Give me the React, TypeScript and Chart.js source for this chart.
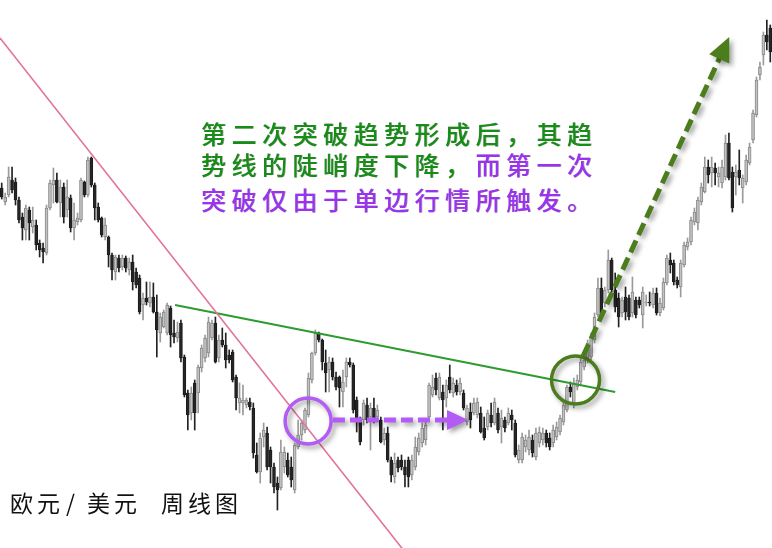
import React, { useEffect, useRef } from "react";
import { Chart, registerables } from "chart.js";

Chart.register(...registerables);

// EUR/USD weekly candles (approximate prices)
const opens = [
  1.412, 1.398, 1.405, 1.420, 1.418, 1.400, 1.383, 1.370, 1.390, 1.373,
  1.375, 1.357, 1.352, 1.347, 1.392, 1.415, 1.420, 1.397, 1.413, 1.390,
  1.402, 1.372, 1.378, 1.380, 1.418, 1.405, 1.442, 1.415, 1.393, 1.382,
  1.363, 1.363, 1.345, 1.328, 1.342, 1.333, 1.342, 1.330, 1.338, 1.328,
  1.322, 1.295, 1.302, 1.297, 1.303, 1.288, 1.267, 1.273, 1.267, 1.292,
  1.267, 1.262, 1.277, 1.243, 1.207, 1.187, 1.217, 1.207, 1.232, 1.242,
  1.247, 1.262, 1.277, 1.242, 1.260, 1.255, 1.245, 1.248, 1.223, 1.197,
  1.197, 1.195, 1.198, 1.192, 1.145, 1.128, 1.163, 1.167, 1.150, 1.133,
  1.117, 1.112, 1.133, 1.140, 1.133, 1.110, 1.153, 1.165, 1.170, 1.185,
  1.220, 1.247, 1.267, 1.260, 1.237, 1.230, 1.238, 1.223, 1.223, 1.208,
  1.223, 1.238, 1.235, 1.200, 1.180, 1.180, 1.195, 1.183, 1.192, 1.183,
  1.180, 1.160, 1.167, 1.140, 1.123, 1.140, 1.140, 1.133, 1.140, 1.125,
  1.133, 1.148, 1.157, 1.160, 1.183, 1.205, 1.222, 1.202, 1.208, 1.202,
  1.223, 1.207, 1.215, 1.208, 1.207, 1.178, 1.188, 1.187, 1.185, 1.187,
  1.172, 1.173, 1.185, 1.177, 1.187, 1.173, 1.180, 1.177, 1.185, 1.177,
  1.140, 1.140, 1.153, 1.150, 1.160, 1.143, 1.157, 1.160, 1.167, 1.162,
  1.157, 1.163, 1.168, 1.178, 1.190, 1.213, 1.197, 1.213, 1.218, 1.233,
  1.240, 1.243, 1.260, 1.285, 1.312, 1.297, 1.310, 1.340, 1.310, 1.302,
  1.287, 1.303, 1.302, 1.287, 1.300, 1.300, 1.285, 1.297, 1.298, 1.295,
  1.307, 1.287, 1.292, 1.317, 1.340, 1.337, 1.320, 1.313, 1.335, 1.353,
  1.358, 1.378, 1.377, 1.398, 1.408, 1.433, 1.427, 1.432, 1.423, 1.417,
  1.423, 1.457, 1.428, 1.423, 1.430, 1.412, 1.418, 1.437, 1.460, 1.485,
  1.525, 1.545, 1.565, 1.572,
];

const highs = [
  1.417, 1.407, 1.433, 1.433, 1.422, 1.403, 1.387, 1.395, 1.393, 1.393,
  1.380, 1.360, 1.357, 1.395, 1.420, 1.432, 1.427, 1.420, 1.417, 1.420,
  1.405, 1.397, 1.387, 1.422, 1.419, 1.443, 1.443, 1.417, 1.397, 1.383,
  1.382, 1.364, 1.347, 1.345, 1.345, 1.345, 1.344, 1.342, 1.345, 1.332,
  1.325, 1.307, 1.318, 1.318, 1.317, 1.305, 1.287, 1.290, 1.297, 1.294,
  1.280, 1.278, 1.280, 1.245, 1.210, 1.213, 1.220, 1.235, 1.255, 1.265,
  1.283, 1.280, 1.283, 1.265, 1.272, 1.267, 1.250, 1.250, 1.225, 1.217,
  1.215, 1.202, 1.202, 1.197, 1.157, 1.167, 1.177, 1.173, 1.153, 1.137,
  1.123, 1.160, 1.153, 1.147, 1.143, 1.157, 1.180, 1.180, 1.192, 1.227,
  1.248, 1.270, 1.268, 1.261, 1.250, 1.243, 1.242, 1.228, 1.224, 1.230,
  1.242, 1.242, 1.237, 1.203, 1.183, 1.200, 1.202, 1.197, 1.202, 1.195,
  1.183, 1.172, 1.173, 1.143, 1.147, 1.143, 1.145, 1.140, 1.143, 1.145,
  1.163, 1.167, 1.177, 1.180, 1.217, 1.225, 1.227, 1.227, 1.215, 1.220,
  1.235, 1.222, 1.220, 1.222, 1.210, 1.195, 1.197, 1.202, 1.202, 1.193,
  1.183, 1.190, 1.197, 1.202, 1.192, 1.190, 1.183, 1.192, 1.190, 1.180,
  1.155, 1.167, 1.165, 1.170, 1.165, 1.172, 1.173, 1.172, 1.170, 1.167,
  1.175, 1.178, 1.185, 1.197, 1.215, 1.218, 1.222, 1.225, 1.242, 1.245,
  1.260, 1.267, 1.287, 1.322, 1.322, 1.313, 1.350, 1.342, 1.327, 1.307,
  1.303, 1.313, 1.305, 1.323, 1.303, 1.303, 1.313, 1.305, 1.308, 1.312,
  1.312, 1.302, 1.322, 1.345, 1.347, 1.340, 1.323, 1.340, 1.358, 1.362,
  1.383, 1.392, 1.403, 1.417, 1.443, 1.440, 1.443, 1.437, 1.433, 1.440,
  1.465, 1.467, 1.433, 1.435, 1.450, 1.425, 1.445, 1.457, 1.490, 1.523,
  1.538, 1.568, 1.580, 1.575,
];

const lows = [
  1.401, 1.395, 1.403, 1.407, 1.395, 1.377, 1.360, 1.360, 1.360, 1.367,
  1.350, 1.343, 1.337, 1.345, 1.390, 1.397, 1.397, 1.383, 1.377, 1.383,
  1.368, 1.360, 1.375, 1.378, 1.403, 1.403, 1.413, 1.380, 1.378, 1.363,
  1.360, 1.333, 1.320, 1.320, 1.328, 1.330, 1.328, 1.325, 1.310, 1.312,
  1.286, 1.280, 1.295, 1.293, 1.287, 1.243, 1.258, 1.272, 1.265, 1.253,
  1.257, 1.258, 1.238, 1.203, 1.170, 1.180, 1.170, 1.187, 1.228, 1.238,
  1.243, 1.260, 1.237, 1.238, 1.253, 1.232, 1.237, 1.218, 1.190, 1.187,
  1.185, 1.192, 1.190, 1.142, 1.127, 1.117, 1.153, 1.130, 1.117, 1.107,
  1.090, 1.110, 1.127, 1.123, 1.113, 1.107, 1.151, 1.160, 1.167, 1.183,
  1.217, 1.245, 1.258, 1.230, 1.208, 1.208, 1.220, 1.210, 1.193, 1.193,
  1.213, 1.233, 1.187, 1.168, 1.155, 1.175, 1.177, 1.150, 1.177, 1.180,
  1.157, 1.155, 1.138, 1.118, 1.117, 1.128, 1.130, 1.113, 1.113, 1.120,
  1.130, 1.145, 1.153, 1.155, 1.180, 1.203, 1.205, 1.200, 1.170, 1.193,
  1.207, 1.203, 1.205, 1.205, 1.190, 1.175, 1.172, 1.185, 1.182, 1.167,
  1.160, 1.170, 1.173, 1.175, 1.167, 1.157, 1.168, 1.175, 1.170, 1.143,
  1.137, 1.137, 1.148, 1.145, 1.143, 1.140, 1.153, 1.155, 1.153, 1.150,
  1.153, 1.160, 1.165, 1.175, 1.188, 1.203, 1.192, 1.210, 1.215, 1.230,
  1.237, 1.240, 1.257, 1.283, 1.285, 1.293, 1.307, 1.308, 1.288, 1.273,
  1.283, 1.280, 1.280, 1.283, 1.282, 1.292, 1.272, 1.294, 1.294, 1.292,
  1.285, 1.284, 1.290, 1.315, 1.327, 1.315, 1.312, 1.303, 1.333, 1.350,
  1.355, 1.375, 1.370, 1.395, 1.407, 1.417, 1.413, 1.415, 1.413, 1.412,
  1.420, 1.420, 1.388, 1.405, 1.415, 1.397, 1.415, 1.435, 1.457, 1.483,
  1.520, 1.535, 1.550, 1.538,
];

const closes = [
  1.403, 1.403, 1.423, 1.410, 1.400, 1.380, 1.372, 1.392, 1.377, 1.380,
  1.355, 1.350, 1.348, 1.392, 1.417, 1.420, 1.398, 1.413, 1.383, 1.403,
  1.372, 1.380, 1.382, 1.420, 1.405, 1.440, 1.415, 1.392, 1.380, 1.365,
  1.375, 1.345, 1.330, 1.343, 1.332, 1.342, 1.332, 1.338, 1.318, 1.315,
  1.288, 1.302, 1.298, 1.303, 1.288, 1.270, 1.283, 1.288, 1.295, 1.265,
  1.263, 1.268, 1.242, 1.205, 1.185, 1.207, 1.187, 1.233, 1.252, 1.262,
  1.278, 1.277, 1.238, 1.260, 1.255, 1.240, 1.240, 1.220, 1.202, 1.202,
  1.200, 1.200, 1.193, 1.147, 1.128, 1.162, 1.170, 1.133, 1.133, 1.113,
  1.110, 1.148, 1.148, 1.125, 1.120, 1.155, 1.165, 1.177, 1.190, 1.222,
  1.247, 1.267, 1.260, 1.238, 1.227, 1.238, 1.223, 1.213, 1.212, 1.218,
  1.238, 1.235, 1.190, 1.178, 1.158, 1.197, 1.180, 1.192, 1.180, 1.190,
  1.158, 1.167, 1.140, 1.125, 1.137, 1.132, 1.133, 1.125, 1.123, 1.140,
  1.153, 1.162, 1.172, 1.175, 1.215, 1.213, 1.210, 1.223, 1.200, 1.215,
  1.210, 1.217, 1.208, 1.217, 1.192, 1.192, 1.180, 1.197, 1.198, 1.168,
  1.162, 1.187, 1.177, 1.198, 1.170, 1.182, 1.172, 1.187, 1.180, 1.145,
  1.150, 1.163, 1.160, 1.163, 1.147, 1.167, 1.168, 1.167, 1.157, 1.153,
  1.170, 1.173, 1.182, 1.195, 1.213, 1.208, 1.217, 1.220, 1.238, 1.240,
  1.257, 1.263, 1.283, 1.312, 1.287, 1.310, 1.340, 1.310, 1.293, 1.283,
  1.300, 1.288, 1.283, 1.308, 1.285, 1.295, 1.308, 1.298, 1.297, 1.307,
  1.287, 1.297, 1.318, 1.342, 1.335, 1.318, 1.315, 1.337, 1.355, 1.358,
  1.380, 1.388, 1.400, 1.413, 1.433, 1.425, 1.433, 1.427, 1.427, 1.433,
  1.457, 1.422, 1.392, 1.428, 1.422, 1.422, 1.440, 1.453, 1.487, 1.520,
  1.533, 1.565, 1.558, 1.548,
];

// Annotation geometry in data units: [candle index, price]
const steepTrendLine = [[-0.5, 1.562], [117.0, 1.048]];
const flatTrendLine = [[50.3, 1.295], [178.0, 1.208]];
const firstBreakCircle = [88.9, 1.179];
const secondBreakCircle = [166.5, 1.220];
const firstArrow = [[96.1, 1.180], [135.3, 1.180]];
const secondArrow = [[168.7, 1.244], [211.1, 1.563]];

// Text
const titleParts = ["欧元", "/", "美元", " ", "周线图"];
const noteLine1 = [{ text: "第二次突破趋势形成后，其趋", tone: "green" }];
const noteLine2 = [
  { text: "势线的陡峭度下降，", tone: "green" },
  { text: "而第一次", tone: "purple" },
];
const noteLine3 = [{ text: "突破仅由于单边行情所触发。", tone: "purple" }];

const PRICE_MIN = 1.052;
const PRICE_MAX = 1.6;

const GREEN_TEXT = "#178c17";
const PURPLE_TEXT = "#9a32ef";
const PURPLE = "#b35cf5";
const DARK_GREEN = "#4b7d1c";

function drawArrow(
  ctx: CanvasRenderingContext2D,
  a: { X: number; Y: number },
  b: { X: number; Y: number },
  color: string,
  width: number,
  dash: number[],
  headLen: number,
  headHalf: number
) {
  const dx = b.X - a.X;
  const dy = b.Y - a.Y;
  const len = Math.hypot(dx, dy);
  const ux = dx / len;
  const uy = dy / len;
  const bx = b.X - ux * headLen;
  const by = b.Y - uy * headLen;
  ctx.strokeStyle = color;
  ctx.lineWidth = width;
  ctx.lineCap = "butt";
  ctx.setLineDash(dash);
  ctx.beginPath();
  ctx.moveTo(a.X, a.Y);
  ctx.lineTo(bx + ux * 2, by + uy * 2);
  ctx.stroke();
  ctx.setLineDash([]);
  ctx.fillStyle = color;
  ctx.beginPath();
  ctx.moveTo(b.X, b.Y);
  ctx.lineTo(bx - uy * headHalf, by + ux * headHalf);
  ctx.lineTo(bx + uy * headHalf, by - ux * headHalf);
  ctx.closePath();
  ctx.fill();
}

const annotationPlugin = {
  id: "breakAnnotations",
  afterDatasetsDraw(chart: any) {
    const { ctx, scales } = chart;
    const xs = scales.x;
    const ys = scales.y;
    const P = (p: number[]) => ({ X: xs.getPixelForValue(p[0]), Y: ys.getPixelForValue(p[1]) });
    ctx.save();
    ctx.shadowColor = "rgba(0,0,0,0.38)";
    ctx.shadowBlur = 5;
    ctx.shadowOffsetX = 3;
    ctx.shadowOffsetY = 3;

    const c1 = P(firstBreakCircle);
    ctx.strokeStyle = PURPLE;
    ctx.lineWidth = 3.5;
    ctx.beginPath();
    ctx.arc(c1.X, c1.Y, 23, 0, Math.PI * 2);
    ctx.stroke();
    drawArrow(ctx, P(firstArrow[0]), P(firstArrow[1]), PURPLE, 5, [12, 5], 21, 10);

    const c2 = P(secondBreakCircle);
    ctx.strokeStyle = DARK_GREEN;
    ctx.lineWidth = 3.5;
    ctx.beginPath();
    ctx.arc(c2.X, c2.Y, 24, 0, Math.PI * 2);
    ctx.stroke();
    drawArrow(ctx, P(secondArrow[0]), P(secondArrow[1]), DARK_GREEN, 5, [13, 6], 24, 11);
    ctx.restore();
  },
};

function NoteLine({ parts, top }: { parts: { text: string; tone: string }[]; top: number }) {
  return (
    <div
      style={{
        position: "absolute",
        left: 201,
        top,
        fontFamily: '"Noto Sans CJK SC", sans-serif',
        fontSize: 25,
        fontWeight: 500,
        lineHeight: "32px",
        letterSpacing: "5.5px",
        whiteSpace: "nowrap",
        textShadow: "0.7px 0.4px 0 rgba(0,0,0,0.35)",
      }}
    >
      {parts.map((p, i) => (
        <span key={i} style={{ color: p.tone === "green" ? GREEN_TEXT : PURPLE_TEXT }}>
          {p.text}
        </span>
      ))}
    </div>
  );
}

export default function App() {
  const canvasRef = useRef<HTMLCanvasElement | null>(null);

  useEffect(() => {
    if (!canvasRef.current) return;
    const n = opens.length;
    const up = opens.map((o, i) => closes[i] >= o);
    const chart = new Chart(canvasRef.current, {
      type: "bar",
      data: {
        datasets: [
          {
            type: "line",
            data: steepTrendLine.map((p) => ({ x: p[0], y: p[1] })),
            borderColor: "#e2739b",
            borderWidth: 1.6,
            pointRadius: 0,
            order: 0,
          } as any,
          {
            type: "line",
            data: flatTrendLine.map((p) => ({ x: p[0], y: p[1] })),
            borderColor: "#2e9b2e",
            borderWidth: 2,
            pointRadius: 0,
            order: 0,
          } as any,
          {
            type: "bar",
            data: opens.map((o, i) => ({ x: i, y: [o, closes[i]] })),
            backgroundColor: up.map((u) => (u ? "#c2c2c2" : "#262626")),
            borderColor: up.map((u) => (u ? "#888888" : "#1c1c1c")),
            borderWidth: 1,
            borderSkipped: false,
            barThickness: 3,
            grouped: false,
            order: 1,
          } as any,
          {
            type: "bar",
            data: lows.map((l, i) => ({ x: i, y: [l, highs[i]] })),
            backgroundColor: up.map((u) => (u ? "#9a9a9a" : "#222222")),
            borderWidth: 0,
            barThickness: 1,
            grouped: false,
            order: 2,
          } as any,
        ],
      },
      options: {
        responsive: false,
        animation: false,
        layout: { padding: 0 },
        plugins: { legend: { display: false }, tooltip: { enabled: false } },
        scales: {
          x: { type: "linear", min: -0.5, max: n - 0.5, offset: false, display: false },
          y: { type: "linear", min: PRICE_MIN, max: PRICE_MAX, display: false },
        },
      } as any,
      plugins: [annotationPlugin],
    });
    return () => chart.destroy();
  }, []);

  return (
    <div
      style={{
        position: "fixed",
        left: 0,
        top: 0,
        width: 772,
        height: 548,
        background: "#ffffff",
        overflow: "hidden",
      }}
    >
      <canvas ref={canvasRef} width={772} height={548} style={{ display: "block" }} />
      <NoteLine parts={noteLine1} top={117} />
      <NoteLine parts={noteLine2} top={148} />
      <NoteLine parts={noteLine3} top={183} />
      <div
        style={{
          position: "absolute",
          left: 10,
          top: 486,
          fontFamily: '"Noto Sans CJK SC", sans-serif',
          fontSize: 23,
          lineHeight: "32px",
          letterSpacing: "4px",
          color: "#111111",
          whiteSpace: "pre",
        }}
      >
        {titleParts.map((t, i) => (
          <span
            key={i}
            style={{
              display: "inline-block",
              marginLeft: t === "/" ? 2 : 0,
              marginRight: t === "/" ? 8 : 0,
              width: t === " " ? 20 : undefined,
            }}
          >
            {t}
          </span>
        ))}
      </div>
    </div>
  );
}
